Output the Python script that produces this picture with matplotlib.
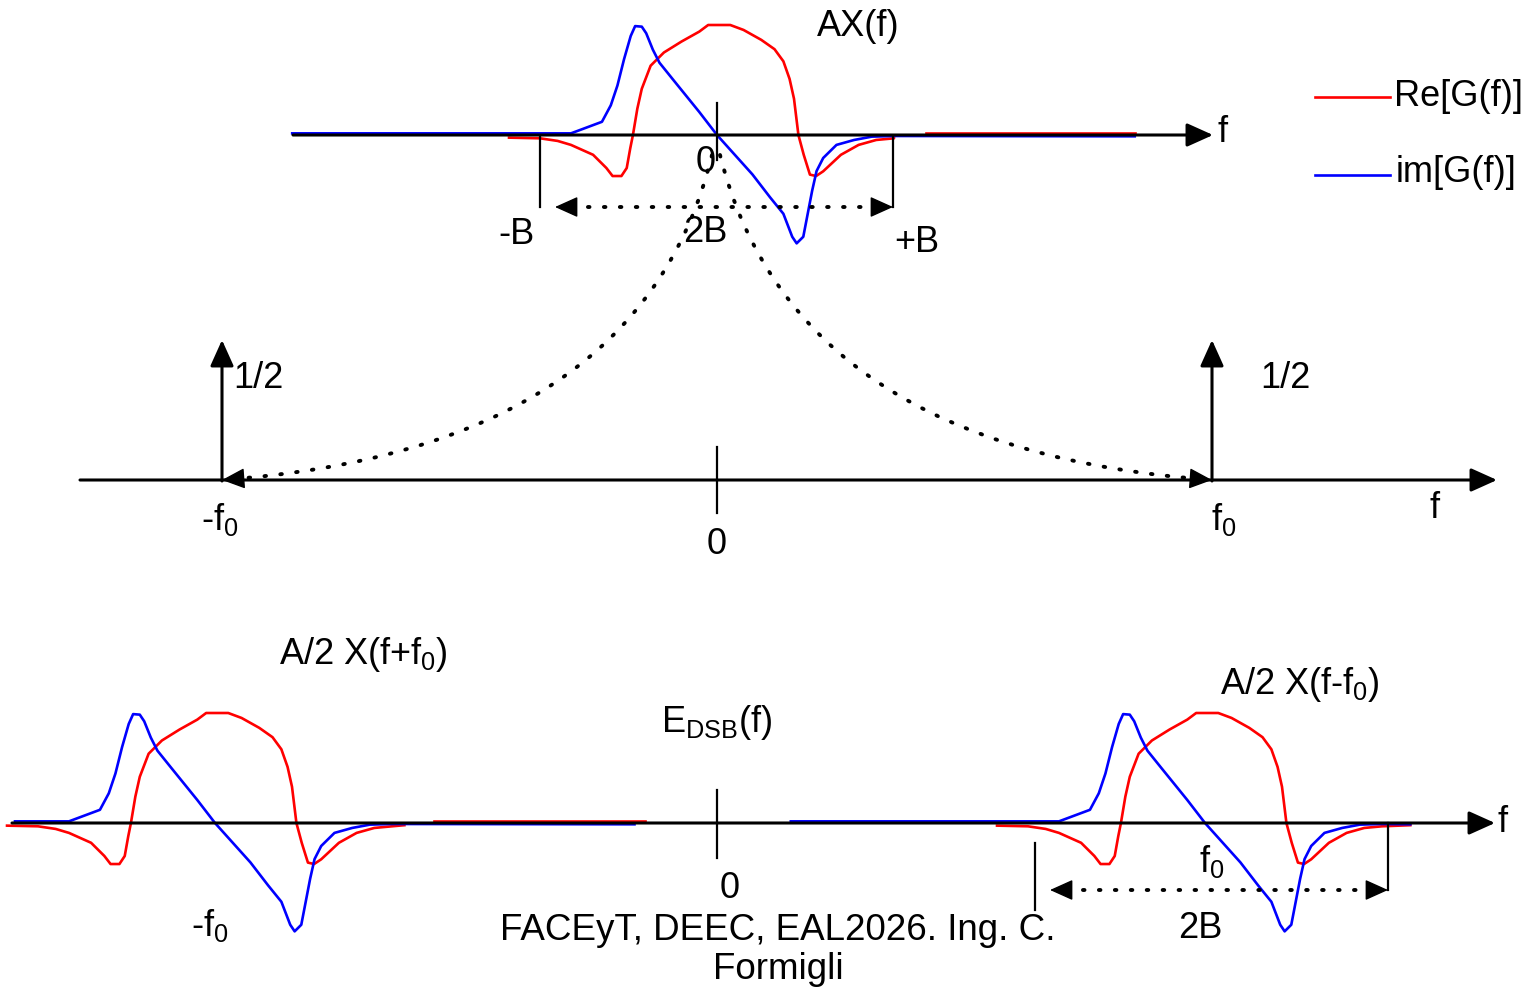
import numpy as np
import matplotlib.pyplot as plt
from matplotlib.patches import FancyArrowPatch, PathPatch
from matplotlib.path import Path

plt.rcParams["font.family"] = ["Liberation Sans", "DejaVu Sans"]
plt.rcParams["mathtext.fontset"] = "custom"
plt.rcParams["mathtext.rm"] = "Liberation Sans"
plt.rcParams["mathtext.it"] = "Liberation Sans"
plt.rcParams["mathtext.default"] = "regular"


# --------------------------------------------------
# Spectrum shape (frequency in units of B, amplitude relative to Re peak)
# --------------------------------------------------

re_f = [-1.175, -1.0, -0.9, -0.825, -0.70, -0.625, -0.59, -0.54, -0.51, -0.49,
        -0.475, -0.45, -0.425, -0.375, -0.30, -0.20, -0.10, -0.05, 0.075, 0.15,
        0.25, 0.325, 0.375, 0.41, 0.435, 0.46, 0.49, 0.525, 0.56, 0.60,
        0.70, 0.80, 0.90, 1.0]
re_v = [-0.024, -0.03, -0.054, -0.09, -0.18, -0.30, -0.373, -0.373, -0.30, -0.12,
        0.0, 0.24, 0.42, 0.63, 0.75, 0.85, 0.94, 1.0, 1.0, 0.955,
        0.865, 0.78, 0.67, 0.51, 0.33, 0.0, -0.18, -0.36, -0.373, -0.33,
        -0.18, -0.09, -0.045, -0.03]

im_f = [-0.825, -0.725, -0.65, -0.60, -0.5625, -0.525, -0.4875, -0.4625, -0.425,
        -0.40, -0.3625, -0.325, -0.25, -0.175, -0.10, 0.0, 0.10, 0.20, 0.30,
        0.375, 0.425, 0.45, 0.4875, 0.5125, 0.5375, 0.5625, 0.60, 0.675,
        0.775, 0.875, 1.0]
im_v = [0.015, 0.075, 0.12, 0.27, 0.45, 0.69, 0.90, 0.99, 0.985,
        0.925, 0.776, 0.657, 0.507, 0.358, 0.209, 0.0, -0.179, -0.358, -0.567,
        -0.716, -0.925, -0.985, -0.925, -0.716, -0.507, -0.328, -0.209, -0.09,
        -0.045, -0.015, -0.009]

# flat tail levels
im_tail_left = 0.015
im_tail_right = -0.012
re_tail_right = -0.02
re_side_level = 0.02

# three copies: X(f) on top, X(f+f0) and X(f-f0) at the bottom
copy_cx = [717, 215, 1205]
copy_ay = [135, 823, 823]
im_left_end = [-2.40, -1.13, -2.34]
im_right_end = [2.36, 2.37, 1.16]
re_right_end = [1.0, 1.07, 1.16]
re_side = [(1.18, 2.36), (1.24, 2.43), None]

B_px = 177
H_px = 110


# --------------------------------------------------
# Figure
# --------------------------------------------------

fig = plt.figure(figsize=(15.34, 9.91), dpi=100)
ax = fig.add_axes([0, 0, 1, 1])
ax.set_xlim(0, 1534)
ax.set_ylim(991, 0)
ax.axis("off")

FS = 26
DOTS = (0, (0.4, 3.7))


def arrow(p0, p1, style="-|>", lw=2.2, hl=0.8, hw=0.36, ms=20):
    ax.add_patch(FancyArrowPatch(
        p0, p1, arrowstyle=f"{style},head_length={hl},head_width={hw}",
        mutation_scale=ms, lw=lw, color="black", shrinkA=0, shrinkB=0,
        zorder=3))


def head(tip, direction, ms=18):
    d = np.asarray(direction, dtype=float)
    d = d / np.hypot(*d)
    start = (tip[0] - d[0] * 14, tip[1] - d[1] * 14)
    arrow(start, tip, lw=1, ms=ms)


def dotted(xs, ys):
    ax.plot(xs, ys, color="black", lw=2.8, ls=DOTS,
            dash_capstyle="round", zorder=3)


def vline(x, y0, y1, lw=1.6):
    ax.plot([x, x], [y0, y1], color="black", lw=lw, zorder=3)


# --------------------------------------------------
# Axes lines
# --------------------------------------------------

arrow((293, 135), (1213, 135))
arrow((80, 480), (1497, 480))
arrow((12, 823), (1495, 823))

vline(717, 103, 160)
vline(717, 447, 513)
vline(717, 790, 858)

# deltas at -f0 and f0
arrow((222, 481), (222, 340), lw=2.2)
arrow((1212, 481), (1212, 340), lw=2.2)


# --------------------------------------------------
# Spectrum copies
# --------------------------------------------------

for k in range(3):
    cx, ay = copy_cx[k], copy_ay[k]

    f_re = np.array(re_f + [re_right_end[k]])
    v_re = np.array(re_v + [re_tail_right])
    ax.plot(cx + f_re * B_px, ay - v_re * H_px, color="red", lw=1.9, zorder=2)

    f_im = np.array([im_left_end[k]] + im_f + [im_right_end[k]])
    v_im = np.array([im_tail_left] + im_v + [im_tail_right])
    ax.plot(cx + f_im * B_px, ay - v_im * H_px, color="blue", lw=1.9, zorder=2)

    if re_side[k] is not None:
        a, b = re_side[k]
        ax.plot([cx + a * B_px, cx + b * B_px],
                [ay - re_side_level * H_px] * 2, color="red", lw=1.9, zorder=2)


# --------------------------------------------------
# Bandwidth markers
# --------------------------------------------------

vline(540, 137, 207)
vline(893, 137, 207)
dotted([572, 876], [207, 207])
head((555, 207), (-1, 0))
head((893, 207), (1, 0))

vline(1035, 843, 910)
vline(1388, 823, 890)
dotted([1067, 1371], [890, 890])
head((1050, 890), (-1, 0))
head((1388, 890), (1, 0))


# --------------------------------------------------
# Dotted curves from X(f) down to -f0 and f0
# --------------------------------------------------

curves = [((712, 155), (640, 450), (222, 480)),
          ((720, 155), (794, 450), (1212, 480))]
for p0, p1, p2 in curves:
    path = Path([p0, p1, p2], [Path.MOVETO, Path.CURVE3, Path.CURVE3])
    ax.add_patch(PathPatch(path, fill=False, lw=2.8, ls=DOTS,
                           capstyle="round", zorder=3))
    head(p2, (p2[0] - p1[0], p2[1] - p1[1]))


# --------------------------------------------------
# Legend
# --------------------------------------------------

ax.plot([1315, 1390], [97, 97], color="red", lw=1.9)
ax.plot([1315, 1390], [175, 175], color="blue", lw=1.9)
ax.text(1394, 97, "Re[G(f)]", fontsize=FS, ha="left", va="center")
ax.text(1396, 173, "im[G(f)]", fontsize=FS, ha="left", va="center")


# --------------------------------------------------
# Labels
# --------------------------------------------------

labels = [
    (858, 27, "AX(f)", "center"),
    (1218, 133, "f", "left"),
    (706, 163, "0", "center"),
    (517, 235, "-B", "center"),
    (705, 233, "2B", "center"),
    (917, 242, "+B", "center"),
    (233, 378, "1/2", "left"),
    (1260, 378, "1/2", "left"),
    (220, 520, "-f$_0$", "center"),
    (717, 545, "0", "center"),
    (1224, 520, "f$_0$", "center"),
    (1435, 508, "f", "center"),
    (363, 655, "A/2 X(f+f$_0$)", "center"),
    (717, 722, "E$_{DSB}$(f)", "center"),
    (1300, 685, "A/2 X(f-f$_0$)", "center"),
    (1498, 822, "f", "left"),
    (730, 888, "0", "center"),
    (210, 925, "-f$_0$", "center"),
    (1212, 862, "f$_0$", "center"),
    (1200, 928, "2B", "center"),
]
for x, y, s, ha in labels:
    ax.text(x, y, s, fontsize=FS, ha=ha, va="center")

ax.text(778, 950, "FACEyT, DEEC, EAL2026. Ing. C.\nFormigli", fontsize=26.5,
        ha="center", va="center", linespacing=1.18)

fig.savefig("out.png", dpi=100)
plt.close(fig)
